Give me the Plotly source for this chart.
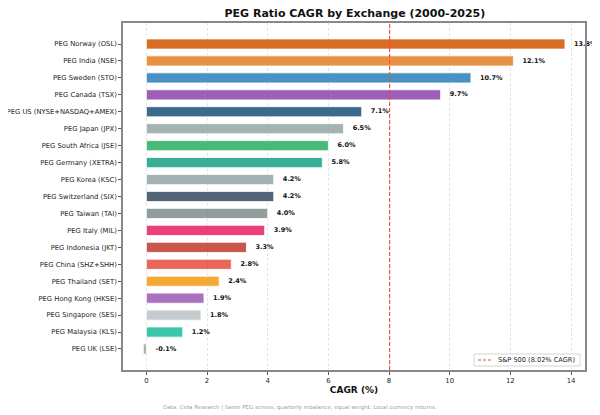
import plotly.graph_objects as go

# bottom-to-top order (plotly draws first category at the bottom)
exchanges = [
    'PEG UK (LSE)', 'PEG Malaysia (KLS)', 'PEG Singapore (SES)', 'PEG Hong Kong (HKSE)',
    'PEG Thailand (SET)', 'PEG China (SHZ+SHH)', 'PEG Indonesia (JKT)', 'PEG Italy (MIL)',
    'PEG Taiwan (TAI)', 'PEG Switzerland (SIX)', 'PEG Korea (KSC)', 'PEG Germany (XETRA)',
    'PEG South Africa (JSE)', 'PEG Japan (JPX)', 'PEG US (NYSE+NASDAQ+AMEX)', 'PEG Canada (TSX)',
    'PEG Sweden (STO)', 'PEG India (NSE)', 'PEG Norway (OSL)',
]
cagr = [-0.1, 1.2, 1.8, 1.9, 2.4, 2.8, 3.3, 3.9, 4.0, 4.2, 4.2, 5.8, 6.0, 6.5, 7.1, 9.7, 10.7, 12.1, 13.8]
colors = [
    '#95A5A6', '#1ABC9C', '#BDC3C7', '#9B59B6', '#F39C12', '#E74C3C', '#C0392B', '#E91E63',
    '#7F8C8D', '#34495E', '#95A5A6', '#16A085', '#27AE60', '#95A5A6', '#1A5276', '#8E44AD',
    '#2980B9', '#E67E22', '#D35400',
]
SP500_CAGR = 8.02
SP500_LABEL = f'S&P 500 ({SP500_CAGR:.2f}% CAGR)'

FONT = 'DejaVu Sans'
RED = '#E74C3C'

# plot box in figure pixels (page has an 8px body offset)
L, R, T, B = 115, 577, 15, 362
W, H = 600, 415
PW, PH = R - L, B - T


def px_x(x):  # page pixel -> paper x
    return (x - 8 - L) / PW


def px_y(y):  # page pixel -> paper y
    return (B - (y - 8)) / PH


fig = go.Figure()
fig.add_trace(go.Bar(
    x=cagr, y=exchanges, orientation='h', width=0.6,
    marker=dict(color=colors, opacity=0.85, line=dict(color='white', width=0.8)),
    showlegend=False, hoverinfo='x+y'
))

# value labels just right of each bar
fig.add_trace(go.Scatter(
    x=[max(v, 0) + 0.3 for v in cagr], y=exchanges, mode='text',
    text=[f"<b>{v:.1f}%</b>" for v in cagr], textposition='middle right',
    textfont=dict(family=FONT, size=6.5, color='#111111'),
    showlegend=False, hoverinfo='skip', cliponaxis=False
))

# benchmark line
fig.add_vline(x=SP500_CAGR, line=dict(color=RED, width=1.1, dash='4px,2px'))

# compact legend box, lower right (matplotlib-style)
fig.add_shape(type='rect', xref='paper', yref='paper',
              x0=px_x(474), x1=px_x(580), y0=px_y(366), y1=px_y(354),
              line=dict(color='#d5d5d5', width=1), fillcolor='white', layer='above')
fig.add_shape(type='line', xref='paper', yref='paper',
              x0=px_x(478), x1=px_x(492), y0=px_y(360), y1=px_y(360),
              line=dict(color=RED, width=1.1, dash='3px,2px'), layer='above')
fig.add_annotation(text=SP500_LABEL, xref='paper', yref='paper',
                   x=px_x(496), y=px_y(360), xanchor='left', yanchor='middle',
                   showarrow=False, font=dict(family=FONT, size=6.6, color='#222222'))

fig.update_layout(
    width=W, height=H,
    plot_bgcolor='white', paper_bgcolor='white',
    margin=dict(l=L, r=W - R, t=T, b=H - B),
    font=dict(family=FONT, size=6.8, color='#222222'),
    title=dict(text='<b>PEG Ratio CAGR by Exchange (2000-2025)</b>',
               xref='paper', x=0.502, xanchor='center', y=1 - 5 / H, yanchor='middle',
               font=dict(family=FONT, size=11, color='#111111')),
    showlegend=False,
    bargap=0.4,
)

fig.update_xaxes(
    range=[-0.77, 14.46], tickvals=list(range(0, 15, 2)),
    showgrid=True, gridcolor='#e4e4e4', griddash='3px,2px', gridwidth=0.8,
    zeroline=False, showline=True, linecolor='#888888', linewidth=1.5, mirror=True,
    ticks='outside', ticklen=3, tickcolor='#555555', tickfont=dict(size=6.9),
    automargin=False,
    title=dict(text='<b>CAGR (%)</b>', font=dict(family=FONT, size=9, color='#111111'), standoff=2),
)
fig.update_yaxes(
    type='category', range=[-1.24, 19.24], showgrid=False,
    showline=True, linecolor='#888888', linewidth=1.5, mirror=True,
    ticks='outside', ticklen=3, tickcolor='#555555', tickfont=dict(size=6.8),
    automargin=False,
)

fig.add_annotation(
    text='Data: Ceta Research | Same PEG screen, quarterly rebalance, equal weight. Local currency returns.',
    xref='paper', yref='paper', x=px_x(300), y=px_y(407),
    xanchor='center', yanchor='middle', showarrow=False,
    font=dict(family=FONT, size=5.5, color='#95a5a6')
)

fig.write_html("out.html")
